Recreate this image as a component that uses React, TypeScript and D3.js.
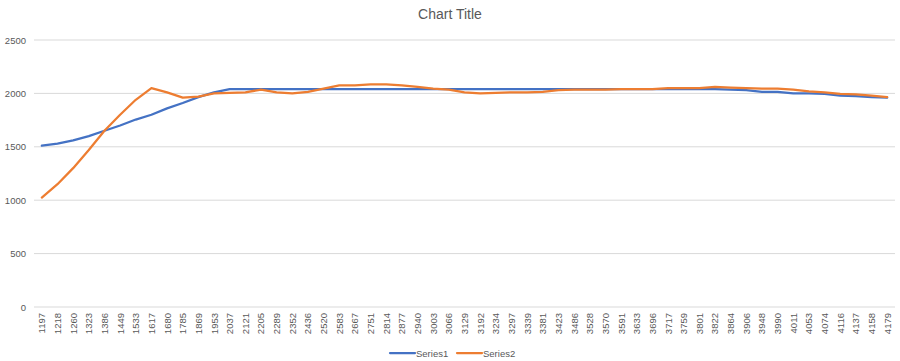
import { useEffect, useRef } from 'react';
import * as d3 from 'd3';

const categories = [
  '1197', '1218', '1260', '1323', '1386', '1449', '1533', '1617', '1680', '1785',
  '1869', '1953', '2037', '2121', '2205', '2289', '2352', '2436', '2520', '2583',
  '2667', '2751', '2814', '2877', '2940', '3003', '3066', '3129', '3192', '3234',
  '3297', '3339', '3381', '3423', '3486', '3528', '3570', '3591', '3633', '3696',
  '3717', '3759', '3801', '3822', '3864', '3906', '3948', '3990', '4011', '4053',
  '4074', '4116', '4137', '4158', '4179',
];

const series1 = [
  1510, 1530, 1560, 1600, 1650, 1700, 1755, 1800, 1860, 1910,
  1965, 2010, 2040, 2040, 2040, 2040, 2040, 2040, 2040, 2040,
  2040, 2040, 2040, 2040, 2040, 2040, 2040, 2040, 2040, 2040,
  2040, 2040, 2040, 2040, 2040, 2040, 2040, 2040, 2040, 2040,
  2040, 2040, 2040, 2040, 2035, 2030, 2015, 2015, 2000, 2000,
  1995, 1980, 1975, 1965, 1960,
];

const series2 = [
  1025, 1150, 1300, 1470, 1650, 1800, 1940, 2050, 2010, 1960,
  1970, 2000, 2005, 2010, 2035, 2010, 2000, 2015, 2045, 2075,
  2075, 2085, 2085, 2075, 2060, 2045, 2035, 2010, 2000, 2005,
  2010, 2010, 2015, 2030, 2035, 2035, 2035, 2040, 2040, 2040,
  2050, 2050, 2050, 2060, 2055, 2050, 2045, 2045, 2035, 2020,
  2010, 1995, 1990, 1980, 1965,
];

const yTicks = [0, 500, 1000, 1500, 2000, 2500];

const seriesList = [
  { name: 'Series1', values: series1, color: '#4472C4' },
  { name: 'Series2', values: series2, color: '#ED7D31' },
];

export default function App() {
  const svgRef = useRef<SVGSVGElement>(null);

  useEffect(() => {
    if (!svgRef.current) return;
    const width = 900;
    const height = 361;
    const font = '"Liberation Sans", Arial, sans-serif';
    const textColor = '#595959';

    const svg = d3.select(svgRef.current);
    svg.selectAll('*').remove();
    svg.attr('width', width).attr('height', height);

    svg.append('rect').attr('width', width).attr('height', height).attr('fill', '#fff');

    const x = d3.scaleBand().domain(categories).range([34, 895]);
    const y = d3.scaleLinear().domain([0, 2500]).range([307, 40]);
    const cx = (c: string) => (x(c) as number) + x.bandwidth() / 2;

    // Title
    svg.append('text')
      .attr('x', 450).attr('y', 19)
      .attr('text-anchor', 'middle')
      .attr('font-family', font)
      .attr('font-size', '14px')
      .attr('fill', textColor)
      .text('Chart Title');

    // Grid
    svg.append('g')
      .selectAll('line')
      .data(yTicks)
      .join('line')
      .attr('x1', 34).attr('x2', 895)
      .attr('y1', d => y(d)).attr('y2', d => y(d))
      .attr('stroke', '#d9d9d9')
      .attr('stroke-width', 1);

    // Y labels
    svg.append('g')
      .selectAll('text')
      .data(yTicks)
      .join('text')
      .attr('x', 26).attr('y', d => y(d) + 3.5)
      .attr('text-anchor', 'end')
      .attr('font-family', font)
      .attr('font-size', '9.5px')
      .attr('fill', textColor)
      .text(d => d);

    // X labels
    svg.append('g')
      .selectAll('text')
      .data(categories)
      .join('text')
      .attr('transform', d => `translate(${cx(d) + 3.5},313) rotate(-90)`)
      .attr('text-anchor', 'end')
      .attr('font-family', font)
      .attr('font-size', '9.5px')
      .attr('fill', textColor)
      .text(d => d);

    // Lines
    const line = d3.line<number>()
      .x((_, i) => cx(categories[i]))
      .y(d => y(d));

    seriesList.forEach(s => {
      svg.append('path')
        .attr('d', line(s.values))
        .attr('fill', 'none')
        .attr('stroke', s.color)
        .attr('stroke-width', 2.25)
        .attr('stroke-linejoin', 'round')
        .attr('stroke-linecap', 'round');
    });

    // Legend
    const legendX = [390, 457];
    seriesList.forEach((s, i) => {
      const g = svg.append('g').attr('transform', `translate(${legendX[i]},353)`);
      g.append('line')
        .attr('x1', 0).attr('x2', 25)
        .attr('y1', 0).attr('y2', 0)
        .attr('stroke', s.color)
        .attr('stroke-width', 2.25)
        .attr('stroke-linecap', 'round');
      g.append('text')
        .attr('x', 26).attr('y', 3.5)
        .attr('font-family', font)
        .attr('font-size', '9.5px')
        .attr('fill', textColor)
        .text(s.name);
    });
  }, []);

  return (
    <div style={{ position: 'absolute', left: 0, top: 0 }}>
      <svg ref={svgRef} style={{ display: 'block' }}></svg>
    </div>
  );
}
